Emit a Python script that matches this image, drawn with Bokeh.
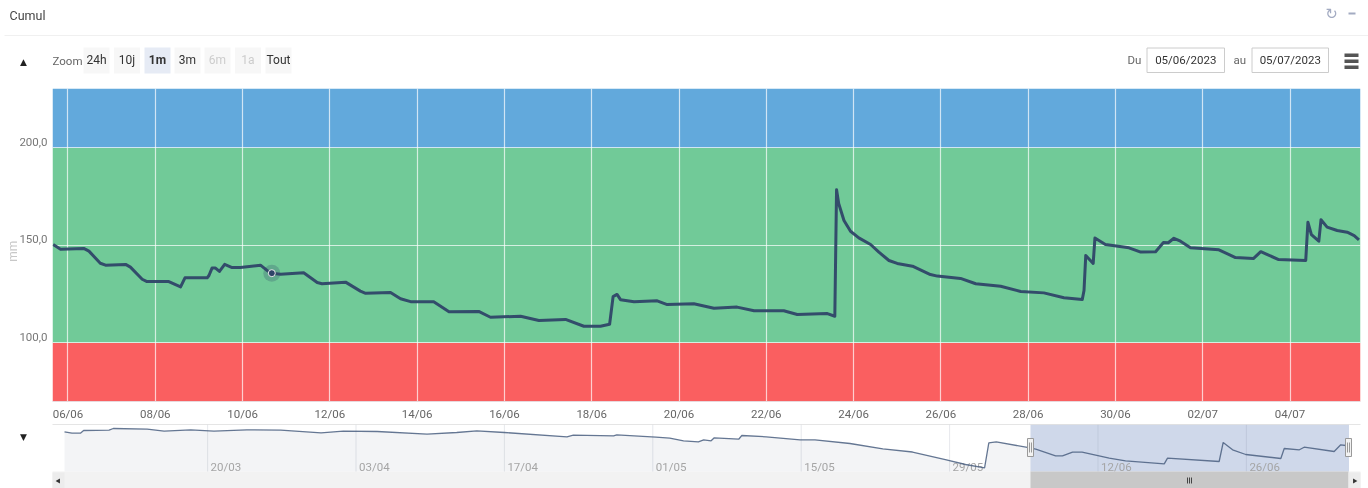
from datetime import datetime, timedelta, timezone
from bokeh.plotting import figure
from bokeh.models import Range1d, FixedTicker
from bokeh.core.properties import value
from bokeh.embed import file_html
from bokeh.resources import INLINE

# ---------- data ----------
main_days = [-0.34,-0.17,0.36,0.48,0.74,0.86,1.32,1.43,1.70,1.81,2.31,2.58,2.68,3.19,3.23,3.30,3.38,3.47,3.59,3.76,3.95,4.41,4.56,4.67,4.87,5.40,5.71,5.82,6.36,6.70,6.82,7.39,7.62,7.85,8.38,8.73,9.41,9.68,10.37,10.79,11.40,11.82,12.20,12.41,12.49,12.58,12.66,12.97,13.50,13.73,14.34,14.80,15.33,15.72,16.40,16.71,17.40,17.57,17.61,17.66,17.78,17.93,18.12,18.39,18.58,18.81,19.00,19.35,19.76,19.92,20.45,20.80,21.37,21.83,22.36,22.82,23.24,23.28,23.32,23.49,23.53,23.77,24.31,24.58,24.92,25.10,25.21,25.34,25.49,25.72,26.37,26.75,27.16,27.33,27.74,28.36,28.41,28.49,28.66,28.71,28.85,29.08,29.31,29.47,29.58]
main_mm = [150.5,148.1,148.5,147.1,140.9,139.9,140.3,138.9,132.7,131.5,131.5,128.8,133.4,133.4,134.6,138.4,138.4,136.7,140.3,138.7,138.7,139.9,137.2,135.8,135.3,136.0,131.0,130.4,131.2,126.6,125.5,125.9,122.7,121.2,121.2,116.0,116.2,113.2,113.7,111.5,112.1,108.6,108.6,109.6,123.8,124.9,122.2,121.1,121.6,119.7,120.1,117.8,118.4,116.5,116.5,114.6,115.1,113.7,178.6,171.4,162.8,157.3,153.9,150.5,146.6,142.3,140.8,139.4,135.1,134.3,133.1,130.4,129.1,126.4,125.7,123.2,122.3,126.9,144.9,140.8,153.8,150.5,148.8,146.6,146.8,151.5,151.4,153.7,152.2,148.8,147.8,143.8,143.3,146.8,142.8,142.3,161.9,155.6,152.2,163.2,159.4,157.7,156.8,155.1,152.9]

nav_days = [-91.5,-90.8,-90.0,-89.7,-87.3,-86.9,-83.7,-82.1,-79.6,-77.4,-74.3,-71.1,-67.3,-65.2,-62.0,-57.3,-54.5,-52.6,-50.0,-44.1,-43.5,-39.7,-39.4,-35.7,-34.4,-33.1,-31.7,-31.2,-30.5,-30.2,-27.9,-27.6,-25.3,-22.1,-20.7,-17.4,-14.3,-11.5,-8.4,-6.5,-4.7,-4.3,-3.6,-0.8,0.13,2.0,2.65,3.6,4.5,7.06,8.6,12.25,12.56,17.43,17.81,18.7,19.94,23.25,23.57,25.0,25.45,28.28,28.9,29.38]
nav_mm = [214.3,209.6,209.6,218.6,219.6,225.3,222.9,216.3,220.9,216.3,220.9,219.6,210.9,216.3,215.3,206.3,211.9,217.6,211.9,197.6,202.9,200.9,204.3,196.3,192.9,184.3,180.9,187.6,184.3,194.3,189.6,201.9,197.6,187.6,187.6,175.3,157.6,146.9,121.9,105.3,94.3,177.6,180.9,162.9,156.3,134.3,134.3,146.3,146.3,126.3,117.6,107.6,126.3,115.3,178.6,154.3,138.6,125.3,158.6,154.3,162.9,148.6,170.9,168.6]

hover_day = [4.67]
hover_mm = [135.8]

tick_dates = ["2023-06-06","2023-06-08","2023-06-10","2023-06-12","2023-06-14","2023-06-16","2023-06-18","2023-06-20","2023-06-22","2023-06-24","2023-06-26","2023-06-28","2023-06-30","2023-07-02","2023-07-04"]
nav_tick_dates = ["2023-03-20","2023-04-03","2023-04-17","2023-05-01","2023-05-15","2023-05-29","2023-06-12","2023-06-26"]
y_ticks = [100, 150, 200]
y_tick_labels = ["100,0", "150,0", "200,0"]
y_title = "mm"
band_low = [70, 100, 200]
band_high = [100, 200, 230.5]
band_colors = ["#fa5f60", "#71ca98", "#62a9dc"]

zoom_labels = ["24h", "10j", "1m", "3m", "6m", "1a", "Tout"]
date_from = "05/06/2023"
date_to = "05/07/2023"

# ---------- helpers ----------
BASE = datetime(2023, 6, 6, tzinfo=timezone.utc)
def d2ms(d):
    return (BASE + timedelta(days=d)).timestamp() * 1000
def s2ms(s):
    return datetime.strptime(s, "%Y-%m-%d").replace(tzinfo=timezone.utc).timestamp() * 1000
def lab(s):
    return datetime.strptime(s, "%Y-%m-%d").strftime("%d/%m")

FONTN = "Roboto"
FONT = value(FONTN)

def bare(p):
    p.xaxis.visible = False
    p.yaxis.visible = False
    p.grid.visible = False
    p.outline_line_color = None

def place(fig, top):
    fig.styles = {"position": "fixed", "left": "0px", "top": f"{top}px"}

# ---------- header ----------
h = figure(width=1368, height=88, x_range=Range1d(0, 1368), y_range=Range1d(88, 0),
           output_backend="svg", toolbar_location=None, min_border=0)
bare(h)
place(h, 0)
h.segment([4], [35], [1368], [35], line_color="#f0f0f0", line_width=1)
h.text([9], [15], ["Cumul"], text_font=FONT, text_font_size="12.5px", text_color="#444444", text_baseline="middle")
h.text([1331], [13], ["\u21bb"], text_font=value("DejaVu Sans"), text_font_size="15px", text_color="#a3abc2", text_align="center", text_baseline="middle")
h.quad([1348], [1355], [12], [14], fill_color="#a3abc2", line_color=None)
h.text([23], [61], ["\u25b2"], text_font=value("DejaVu Sans"), text_font_size="9px", text_color="#222222", text_align="center", text_baseline="middle")
h.text([52], [60], ["Zoom"], text_font=FONT, text_font_size="11.5px", text_color="#666666", text_baseline="middle")
bx = [83, 113.5, 144, 174, 204, 234.5, 265]
for x0, t in zip(bx, zoom_labels):
    sel = t == "1m"
    dis = t in ("6m", "1a")
    h.quad([x0], [x0 + 26], [47], [73], fill_color="#e6ebf5" if sel else "#f7f7f7", line_color=None)
    h.text([x0 + 13], [59.5], [t], text_font=FONT, text_font_size="12px",
           text_font_style="bold" if sel else "normal",
           text_color="#cccccc" if dis else "#333333", text_align="center", text_baseline="middle")
h.text([1127], [59], ["Du"], text_font=FONT, text_font_size="11.5px", text_color="#666666", text_baseline="middle")
h.text([1233], [59], ["au"], text_font=FONT, text_font_size="11.5px", text_color="#666666", text_baseline="middle")
for x0, x1, t in [(1146.5, 1224, date_from), (1251.5, 1328, date_to)]:
    h.quad([x0], [x1], [47.5], [72], fill_color="#ffffff", line_color="#cccccc", line_width=1)
    h.text([(x0 + x1) / 2], [59], [t], text_font=FONT, text_font_size="11.5px", text_color="#333333", text_align="center", text_baseline="middle")
h.quad([1344] * 3, [1358] * 3, [53, 59, 65], [56.5, 62.5, 68.5], fill_color="#555555", line_color=None)

# ---------- y labels ----------
yl = figure(width=52, height=313, x_range=Range1d(0, 52), y_range=Range1d(70, 230.5),
            output_backend="svg", toolbar_location=None, min_border=0)
bare(yl)
place(yl, 88)
yl.text([47] * 3, y_ticks, y_tick_labels, y_offset=-6, text_font=FONT, text_font_size="11.5px",
        text_color="#777777", text_align="right", text_baseline="middle")
yl.text([12], [147], [y_title], angle=1.5708, text_font=FONT, text_font_size="12px",
        text_color="#c8c8c8", text_align="center", text_baseline="middle")

# ---------- main chart ----------
p = figure(width=1368, height=336, x_axis_type="datetime",
           x_range=Range1d(d2ms(-0.355), d2ms(29.615)), y_range=Range1d(70, 230.5),
           output_backend="svg", toolbar_location=None, background_fill_alpha=0, border_fill_alpha=0,
           min_border_left=52, min_border_right=8, min_border_top=0, min_border_bottom=23)
place(p, 88)
p.outline_line_color = None
tk = [s2ms(s) for s in tick_dates]
p.xaxis.ticker = FixedTicker(ticks=tk)
p.xaxis.major_label_overrides = {t: lab(s) for t, s in zip(tk, tick_dates)}
p.xaxis.major_tick_line_color = None
p.xaxis.minor_tick_line_color = None
p.xaxis.major_tick_out = 0
p.xaxis.major_tick_in = 0
p.xaxis.axis_line_color = "#e8d8dc"
p.xaxis.major_label_text_font = FONTN
p.xaxis.major_label_text_font_size = "11.5px"
p.xaxis.major_label_text_color = "#666666"
p.xaxis.major_label_standoff = 5
p.yaxis.visible = False
p.ygrid.ticker = FixedTicker(ticks=y_ticks)
p.grid.grid_line_color = "#ffffff"
p.grid.grid_line_alpha = 0.7
p.grid.grid_line_width = 1.2
p.quad(left=[d2ms(-0.355)] * 3, right=[d2ms(29.615)] * 3, bottom=band_low, top=band_high,
       fill_color=band_colors, line_color=None, level="image")
main_x = [d2ms(d) for d in main_days]
p.line(main_x, main_mm, line_color="#2f4468", line_width=3, line_join="round", line_alpha=0.95)
hx = [d2ms(d) for d in hover_day]
p.scatter(hx, hover_mm, size=17, fill_color="#2f4468", fill_alpha=0.25, line_color=None)
p.scatter(hx, hover_mm, size=7, fill_color="#2f4468", line_color="#e8e8e8", line_width=1)

# ---------- navigator ----------
n = figure(width=1368, height=64, x_range=Range1d(0, 1368), y_range=Range1d(488, 424),
           output_backend="svg", toolbar_location=None, min_border=0)
bare(n)
place(n, 424)
n.extra_x_ranges = {"nav": Range1d(d2ms(-97.54), d2ms(31.52))}
n.extra_y_ranges = {"nav": Range1d(25.3, 238.6)}
nx = [d2ms(d) for d in nav_days]
n.varea(nx, y1=nav_mm, y2=[81.9] * len(nx), fill_color="#f3f4f6", x_range_name="nav", y_range_name="nav")
n.quad([52], [1360], [471], [488], fill_color="#f2f2f2", line_color=None)
n.quad([1030], [1348.5], [424], [471], fill_color="#cfd8ea", line_color=None)
ntk = [s2ms(s) for s in nav_tick_dates]
n.segment(ntk, [238.6] * len(ntk), ntk, [81.9] * len(ntk), line_color="#8f95a8", line_alpha=0.22,
          line_width=1, x_range_name="nav", y_range_name="nav")
n.text(ntk, [97] * len(ntk), [lab(s) for s in nav_tick_dates], x_offset=3, text_font=FONT,
       text_font_size="11.5px", text_color="#a5a5a5", text_baseline="middle",
       x_range_name="nav", y_range_name="nav")
n.line(nx, nav_mm, line_color="#4a5f80", line_width=1.3, line_alpha=0.85, x_range_name="nav", y_range_name="nav")
n.segment([52], [424], [1360], [424], line_color="#cccccc", line_width=1)
n.text([23], [436], ["\u25bc"], text_font=value("DejaVu Sans"), text_font_size="9px", text_color="#222222", text_align="center", text_baseline="middle")
# scrollbar
n.quad([1030], [1348], [471], [488], fill_color="#c8c8c8", line_color=None)
n.quad([52, 1348], [64, 1360], [472, 472], [488, 488], fill_color="#ececec", line_color=None)
n.scatter([58], [480.5], marker="triangle", angle=1.5708, size=5, fill_color="#333333", line_color=None)
n.scatter([1354], [480.5], marker="triangle", angle=-1.5708, size=5, fill_color="#333333", line_color=None)
n.segment([1187, 1189, 1191], [477] * 3, [1187, 1189, 1191], [483] * 3, line_color="#444444", line_width=1)
# handles
n.quad([1027, 1345], [1033, 1351], [438, 438], [456, 456], fill_color="#f2f2f2", line_color="#999999", line_width=1)
n.segment([1029, 1031, 1347, 1349], [442] * 4, [1029, 1031, 1347, 1349], [452] * 4, line_color="#999999", line_width=1)

open("out.html", "w").write(file_html([h, p, yl, n], INLINE))
